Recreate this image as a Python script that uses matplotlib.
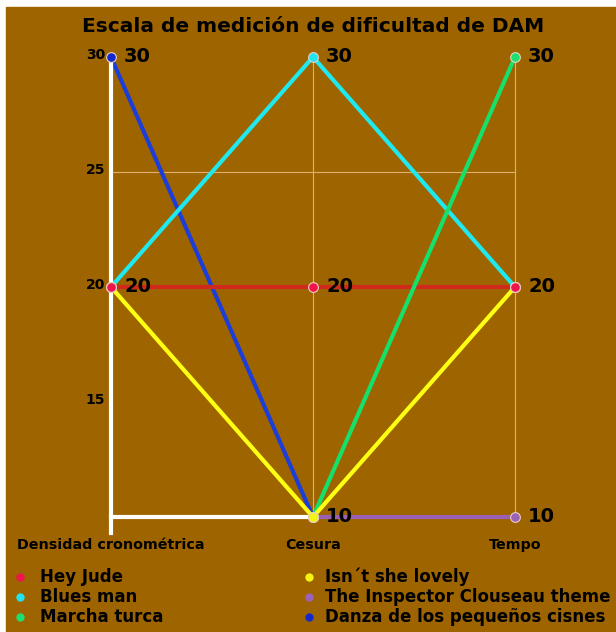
import numpy as np
from matplotlib import pyplot as plt

axes_names = ["Densidad cronométrica", "Cesura", "Tempo"]
songs = ["Hey Jude", "Blues man", "Marcha turca",
         "Isn´t she lovely", "The Inspector Clouseau theme",
         "Danza de los pequeños cisnes"]
hey_jude = [20, 20, 20]
blues_man = [20, 30, 20]
marcha_turca = [np.nan, 10, 30]
isnt_she_lovely = [20, 10, 20]
clouseau = [np.nan, 10, 10]
danza = [30, 10, np.nan]
y_ticks = [15, 20, 25, 30]

line_colors = ["#d02a1c", "#1fe8ee", "#15e06a", "#ffff12", "#9b5fb4", "#1c3ed8"]
point_colors = ["#f0144c", "#22e4f0", "#1ee070", "#f4f414", "#9c62b8", "#1428cc"]
series = [hey_jude, blues_man, marcha_turca, isnt_she_lovely, clouseau, danza]
line_order = [5, 0, 1, 2, 4, 3]
point_order = [5, 1, 2, 4, 3, 0]

bg = "#9e6400"
fig = plt.figure(figsize=(6.16, 6.32), dpi=100)
fig.patch.set_facecolor("white")
fig.add_artist(plt.Rectangle((6 / 616, 0), 1, 1 - 7 / 632, transform=fig.transFigure,
                             color=bg, zorder=-10))

W, H = 616, 632
ax = fig.add_axes([111 / W, 1 - 517 / H, 404 / W, 460 / H])
ax.set_facecolor("none")
ax.set_xlim(0, 2)
ax.set_ylim(10, 30)
for s in ax.spines.values():
    s.set_visible(False)
ax.set_xticks([])
ax.set_yticks([])

x = np.arange(len(axes_names))

# grid
ax.plot([0, 2], [25, 25], color="#e0b070", lw=0.8, zorder=1, clip_on=False)
for xi in [1, 2]:
    ax.plot([xi, xi], [10, 30], color="#e0b070", lw=0.8, zorder=1, clip_on=False)

for i in line_order:
    ax.plot(x, series[i], color=line_colors[i], lw=3, zorder=2, clip_on=False,
            solid_capstyle="round")

# white axis lines
ax.plot([0, 0], [9.3, 30], color="white", lw=3, zorder=3, clip_on=False)
ax.plot([0, 1], [10, 10], color="white", lw=3, zorder=3, clip_on=False)

labels = set()
for i in point_order:
    ax.plot(x, series[i], ls="none", marker="o", ms=7, mfc=point_colors[i],
            mec="#e8d0c0", mew=0.8, zorder=4, clip_on=False)
    for xi, v in zip(x, series[i]):
        if not np.isnan(v):
            labels.add((xi, int(v)))
for xi, v in labels:
    ax.text(xi + 0.065, v, str(v), fontsize=14, fontweight="heavy",
            va="center", ha="left", color="black", zorder=5)

for t in y_ticks:
    ax.text(-0.03, t + 0.1, str(t), fontsize=10, fontweight="bold", ha="right",
            va="center", color="black")

for xi, name in zip(x, axes_names):
    ax.text(xi, 8.78, name, fontsize=10.3, fontweight="bold", ha="center",
            va="center", color="black")

fig.text(313 / W, 1 - 27 / H, "Escala de medición de dificultad de DAM",
         fontsize=14.5, fontweight="bold", ha="center", va="center", color="black")

# legend
for k in range(6):
    col, row = divmod(k, 3)
    mx = [20, 309][col]
    tx = [40, 325][col]
    yy = 1 - (577 + row * 20) / H
    fig.add_artist(plt.Line2D([mx / W], [yy], marker="o", ms=6, mfc=point_colors[k],
                              mec="none", ls="none", transform=fig.transFigure))
    fig.text(tx / W, yy, songs[k], fontsize=12, fontweight="bold", ha="left",
             va="center", color="black")

plt.savefig("out.png", dpi=100, facecolor=fig.get_facecolor())
